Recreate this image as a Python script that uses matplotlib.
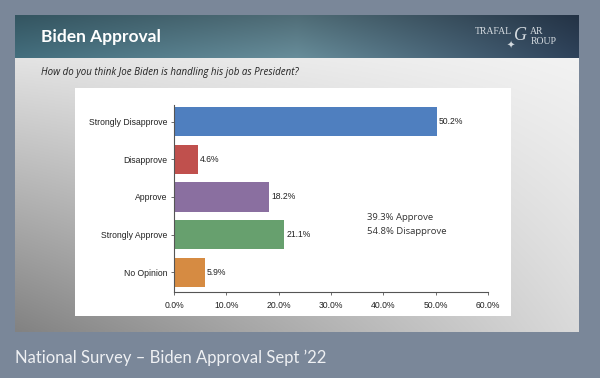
import numpy as np
import matplotlib
matplotlib.use("Agg")
import matplotlib.pyplot as plt
from matplotlib.patches import Rectangle

# ---- data ----
categories = ["Strongly Disapprove", "Disapprove", "Approve", "Strongly Approve", "No Opinion"]
values = [50.2, 4.6, 18.2, 21.1, 5.9]
bar_colors = ["#4f7fbf", "#c0504d", "#8a6fa0", "#67a06e", "#d68b42"]
xticks = [0, 10, 20, 30, 40, 50, 60]
title = "Biden Approval"
question = "How do you think Joe Biden is handling his job as President?"
summary = ["39.3% Approve", "54.8% Disapprove"]
footer = "National Survey \u2013 Biden Approval Sept \u201922"

W, H = 600, 378
fig = plt.figure(figsize=(6, 3.78), dpi=100)
fig.patch.set_facecolor("#7a8799")

bg = fig.add_axes([0, 0, 1, 1])
bg.set_xlim(0, W)
bg.set_ylim(H, 0)
bg.axis("off")

# gray panel gradient
px0, px1, py0, py1 = 15, 579, 58, 332
gx = np.linspace(0, 1, 200)[None, :]
gy = np.linspace(0, 1, 120)[:, None]
val = 0.95 - 0.38 * gy * (1 - 0.75 * gx) - 0.06 * (1 - gx)
img = np.dstack([val, val, val])
bg.imshow(img, extent=[px0, px1, py1, py0], aspect="auto", zorder=1, interpolation="bilinear")

# header gradient
hx = np.linspace(0, 1, 300)
left = np.array([0x3d, 0x64, 0x72]) / 255
mid = np.array([0x5e, 0x80, 0x8c]) / 255
right = np.array([0x2a, 0x3c, 0x52]) / 255
cols = []
for t in hx:
    if t < 0.5:
        c = left + (mid - left) * (t / 0.5)
    else:
        c = mid + (right - mid) * ((t - 0.5) / 0.5)
    cols.append(c)
cols = np.array(cols)[None, :, :]
vy = np.linspace(0, 1, 40)[:, None, None]
himg = np.clip(cols * (0.85 + 0.25 * vy), 0, 1)
bg.imshow(himg, extent=[15, 579, 58, 15], aspect="auto", zorder=1, interpolation="bilinear")

# white chart box
bg.add_patch(Rectangle((75, 88), 436, 228, facecolor="white", edgecolor="none", zorder=2))

bg.text(41, 42, title, color="white", fontsize=12.5, fontweight="bold",
        family="Lato", va="baseline", ha="left", zorder=3)
bg.text(41, 72, question, color="#222222", fontsize=7, style="italic",
        family="Open Sans", va="center", ha="left", zorder=3)
bg.text(15, 363, footer, color="#eef0f3", fontsize=12, family="Lato",
        va="baseline", ha="left", zorder=3)

# logo
logo_c = "#d5dbe0"
bg.text(475, 31, "TRAFAL", color=logo_c, fontsize=7, family="Liberation Serif", va="center", ha="left", zorder=3)
bg.text(514, 36, "G", color=logo_c, fontsize=13, style="italic", family="Liberation Serif", va="center", ha="left", zorder=3)
bg.text(530, 31, "AR", color=logo_c, fontsize=7, family="Liberation Serif", va="center", ha="left", zorder=3)
bg.text(531, 41, "ROUP", color=logo_c, fontsize=7, family="Liberation Serif", va="center", ha="left", zorder=3)
bg.text(511, 46, "\u2726", color=logo_c, fontsize=7, family="DejaVu Sans", va="center", ha="center", zorder=3)

# chart axes
ax = fig.add_axes([174 / W, 1 - 292 / H, (488 - 174) / W, (292 - 105) / H])
ax.set_facecolor("none")
ax.set_zorder(5)
y = np.arange(len(categories))
bars = ax.barh(y, values, height=0.77, color=bar_colors, edgecolor="none")
ax.set_ylim(len(categories) - 0.48, -0.44)
ax.set_xlim(0, 60)
ax.set_yticks(y)
ax.set_yticklabels(categories, fontsize=6.2, family="Liberation Sans", color="#222222")
ax.set_xticks(xticks)
ax.set_xticklabels([f"{t:.1f}%" for t in xticks], fontsize=6.2, family="Liberation Sans", color="#222222")
for s in ["top", "right"]:
    ax.spines[s].set_visible(False)
for s in ["left", "bottom"]:
    ax.spines[s].set_color("#555555")
    ax.spines[s].set_linewidth(0.8)
ax.tick_params(length=2.5, width=0.6, color="#555555", pad=2.5)
ax.tick_params(axis="x", pad=4)
for b, v in zip(bars, values):
    ax.text(v + 0.4, b.get_y() + b.get_height() / 2, f"{v:.1f}%", fontsize=6.2,
            family="Liberation Sans", va="center", ha="left", color="#222222")

ax.text(367, 218, summary[0], transform=bg.transData,
        fontsize=6.8, family="Open Sans", va="center", ha="left", color="#333333")
ax.text(367, 232, summary[1], transform=bg.transData,
        fontsize=6.8, family="Open Sans", va="center", ha="left", color="#333333")

fig.savefig("out.png", dpi=100, facecolor=fig.get_facecolor())
